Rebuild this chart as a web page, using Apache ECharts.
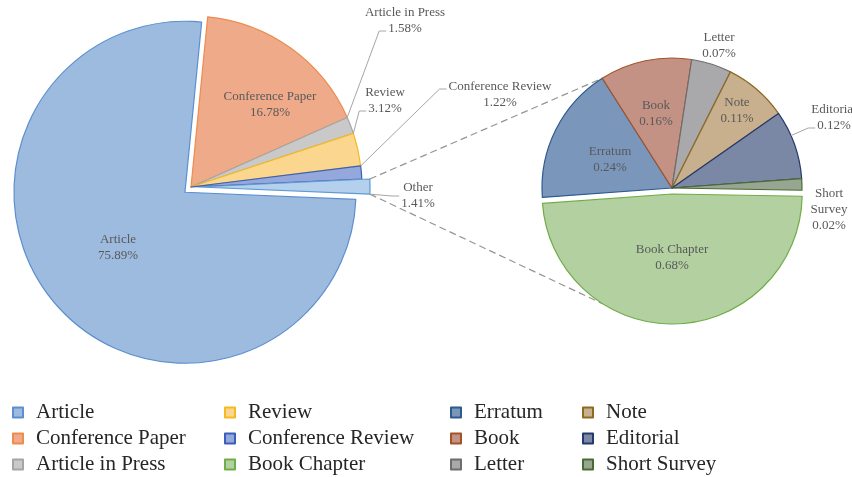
<!DOCTYPE html>
<html>
<head>
<meta charset="utf-8">
<script src="https://cdn.jsdelivr.net/npm/echarts@6/dist/echarts.min.js"></script>
<style>
html,body{margin:0;padding:0;background:#fff;}
#chart{width:852px;height:477px;}
</style>
</head>
<body>
<div id="chart"></div>
<script>
// ---------------- data ----------------
const mainNames  = ['Article', 'Conference Paper', 'Article in Press', 'Review', 'Conference Review', 'Other'];
const mainValues = [75.89, 16.78, 1.58, 3.12, 1.22, 1.41];
const otherNames  = ['Book Chapter', 'Erratum', 'Book', 'Letter', 'Note', 'Editorial', 'Short Survey'];
const otherValues = [0.68, 0.24, 0.16, 0.07, 0.11, 0.12, 0.02];
const legendColumns = [
  ['Article', 'Conference Paper', 'Article in Press'],
  ['Review', 'Conference Review', 'Book Chapter'],
  ['Erratum', 'Book', 'Letter'],
  ['Note', 'Editorial', 'Short Survey']
];

// ---------------- styles / layout ----------------
const FILL = {
  'Article': '#9dbbdf', 'Conference Paper': '#efaa8a', 'Article in Press': '#c9c9c9',
  'Review': '#fbd68f', 'Conference Review': '#95a8db', 'Other': '#b4d0ec',
  'Book Chapter': '#b3d0a0', 'Erratum': '#7a97bb', 'Book': '#c39284', 'Letter': '#a9a9ab',
  'Note': '#c8b08e', 'Editorial': '#7a88a6', 'Short Survey': '#97a690'
};
const EDGE = {
  'Article': '#5b8fcf', 'Conference Paper': '#ed8c4c', 'Article in Press': '#a5a5a5',
  'Review': '#f5b922', 'Conference Review': '#3b5fb8', 'Other': '#5d9bd5',
  'Book Chapter': '#70ad47', 'Erratum': '#2f5a8e', 'Book': '#a35328', 'Letter': '#6d6d6d',
  'Note': '#8c6a23', 'Editorial': '#25396b', 'Short Survey': '#4b6b34'
};
const INSIDE = ['Article', 'Conference Paper', 'Book Chapter', 'Erratum', 'Book', 'Note'];
const NO_LINE = ['Letter', 'Short Survey'];
const EXPLODED = ['Article', 'Other', 'Book Chapter'];
const LABEL_POS = {
  'Article': [118, 248], 'Conference Paper': [270, 105], 'Article in Press': [405, 21],
  'Review': [385, 101], 'Conference Review': [500, 95], 'Other': [418, 196],
  'Book Chapter': [672, 258], 'Erratum': [610, 160], 'Book': [656, 114], 'Letter': [719, 46],
  'Note': [737, 111], 'Editorial': [834, 118], 'Short Survey': [829, 210]
};
// which text line the leader line attaches to (-1 = middle of the block)
const ATTACH = {'Article in Press': 1, 'Review': 1, 'Conference Review': 0, 'Other': -1, 'Editorial': 1};
const LEFT  = {cx: 191, cy: 187, r: 171, start: -2.4, offset: 8};
const RIGHT = {cx: 672, cy: 188, r: 130, start: -1, offset: 6};
const FONT = 'Liberation Serif';
const FONT_SIZE = 13, LINE_H = 16;
const LINE_COLOR = '#a6a6a6';
const STUB = 7;

const measureCtx = document.createElement('canvas').getContext('2d');
measureCtx.font = FONT_SIZE + 'px "' + FONT + '"';
function textW(s) { return measureCtx.measureText(s).width; }

function sum(a) { return a.reduce((s, v) => s + v, 0); }
// angle phi: degrees clockwise from 12 o'clock
function sectorGeom(names, values, geo, idx) {
  const tot = sum(values);
  const a = 90 - geo.start + sum(values.slice(0, idx)) / tot * 360;
  const b = a + values[idx] / tot * 360;
  const m = (a + b) / 2 * Math.PI / 180;
  const sel = EXPLODED.indexOf(names[idx]) >= 0;
  const off = sel ? [geo.offset * Math.sin(m), -geo.offset * Math.cos(m)] : [0, 0];
  return {a: a, b: b, cx: geo.cx + off[0], cy: geo.cy + off[1], r: geo.r};
}
function arcPoint(g, phi) {
  const rad = phi * Math.PI / 180;
  return [g.cx + g.r * Math.sin(rad), g.cy - g.r * Math.cos(rad)];
}
function nearestOnArc(g, p) {
  let phi = Math.atan2(p[0] - g.cx, -(p[1] - g.cy)) * 180 / Math.PI;
  while (phi < g.a - 180) phi += 360;
  while (phi > g.a + 180) phi -= 360;
  phi = Math.min(Math.max(phi, g.a), g.b);
  return arcPoint(g, phi);
}

function mainSeries(names, values, geo) {
  return {
    type: 'pie',
    center: [geo.cx, geo.cy],
    radius: [0, geo.r],
    startAngle: geo.start,
    clockwise: true,
    selectedMode: 'multiple',
    selectedOffset: geo.offset,
    emphasis: {scale: false, disabled: true},
    label: {show: false},
    labelLine: {show: false},
    z: 2,
    data: names.map((n, i) => ({
      name: n, value: values[i],
      selected: EXPLODED.indexOf(n) >= 0,
      itemStyle: {color: FILL[n], borderColor: EDGE[n], borderWidth: 1.2}
    }))
  };
}
function labelLines(name, value) {
  const nm = name === 'Short Survey' ? 'Short\nSurvey' : name;
  return (nm + '\n' + Number(value).toFixed(2) + '%').split('\n');
}
function labelFmt(p) { return labelLines(p.name, p.value).join('\n'); }
function labelSeries(names, values, geo) {
  return {
    type: 'pie',
    center: [geo.cx, geo.cy],
    radius: [0, geo.r],
    startAngle: geo.start,
    clockwise: true,
    silent: true,
    legendHoverLink: false,
    avoidLabelOverlap: false,
    emphasis: {scale: false, disabled: true},
    z: 3,
    label: {
      show: true, formatter: labelFmt, color: '#595959',
      fontFamily: FONT, fontSize: FONT_SIZE, lineHeight: LINE_H, overflow: 'none'
    },
    labelLine: {show: true, length: 10, length2: STUB, lineStyle: {color: LINE_COLOR, width: 1}},
    labelLayout: function (params) {
      const idx = params.dataIndex;
      const name = names[idx];
      const p = LABEL_POS[name];
      const out = {x: p[0], y: p[1], align: 'center', verticalAlign: 'middle'};
      if (INSIDE.indexOf(name) < 0 && NO_LINE.indexOf(name) < 0) {
        const lines = labelLines(name, values[idx]);
        const k = ATTACH[name];
        let w, y;
        if (k == null || k < 0) {
          w = Math.max.apply(null, lines.map(textW));
          y = p[1];
        } else {
          w = textW(lines[k]);
          y = p[1] + (k - (lines.length - 1) / 2) * LINE_H + 2;
        }
        const end = [p[0] - w / 2 - 2, y];
        const bend = [end[0] - STUB, end[1]];
        const g = sectorGeom(names, values, geo, idx);
        out.labelLinePoints = [nearestOnArc(g, bend), bend, end];
      }
      return out;
    },
    data: names.map((n, i) => ({
      name: n, value: values[i],
      itemStyle: {color: 'rgba(0,0,0,0)', borderWidth: 0},
      label: {position: INSIDE.indexOf(n) >= 0 ? 'inside' : 'outside'},
      labelLine: {show: INSIDE.indexOf(n) < 0 && NO_LINE.indexOf(n) < 0}
    }))
  };
}

// connector lines derived from the data
const gOther = sectorGeom(mainNames, mainValues, LEFT, mainNames.indexOf('Other'));
const lTop = arcPoint(gOther, gOther.a), lBot = arcPoint(gOther, gOther.b);
const gErr = sectorGeom(otherNames, otherValues, RIGHT, otherNames.indexOf('Erratum'));
const gBC = sectorGeom(otherNames, otherValues, RIGHT, otherNames.indexOf('Book Chapter'));
const rTop = arcPoint(gErr, gErr.b);
const rBot = arcPoint(gBC, 540 - gErr.b);

const legends = legendColumns.map((col, i) => ({
  orient: 'vertical',
  left: [12, 224, 450, 582][i],
  top: 402,
  padding: 0,
  itemGap: 5,
  itemWidth: 10,
  itemHeight: 10,
  icon: 'rect',
  selectedMode: false,
  data: col,
  textStyle: {fontFamily: FONT, fontSize: 21, lineHeight: 21, color: '#262626', padding: [0, 0, 0, 8]}
}));

const chart = echarts.init(document.getElementById('chart'), null, {renderer: 'canvas'});
chart.setOption({
  backgroundColor: '#ffffff',
  animation: false,
  legend: legends,
  graphic: [
    {type: 'line', z: 0, shape: {x1: lTop[0], y1: lTop[1], x2: rTop[0], y2: rTop[1]},
     style: {stroke: '#959595', lineWidth: 1.2, lineDash: [7, 4]}},
    {type: 'line', z: 0, shape: {x1: lBot[0], y1: lBot[1], x2: rBot[0], y2: rBot[1]},
     style: {stroke: '#959595', lineWidth: 1.2, lineDash: [7, 4]}}
  ],
  series: [
    mainSeries(mainNames, mainValues, LEFT),
    mainSeries(otherNames, otherValues, RIGHT),
    labelSeries(mainNames, mainValues, LEFT),
    labelSeries(otherNames, otherValues, RIGHT)
  ]
});
</script>
</body>
</html>
